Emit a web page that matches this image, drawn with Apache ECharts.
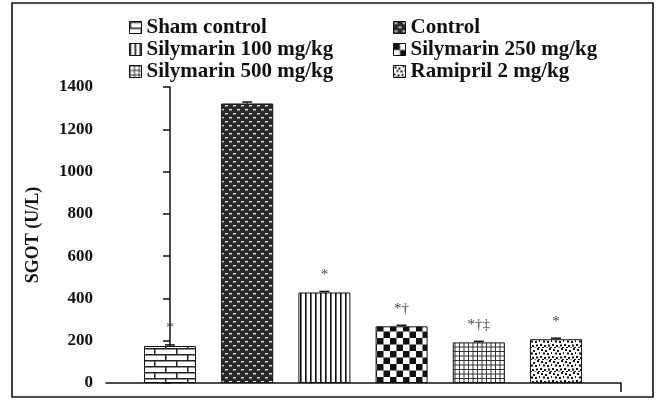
<!DOCTYPE html>
<html>
<head>
<meta charset="utf-8">
<script src="https://cdn.jsdelivr.net/npm/echarts@6/dist/echarts.min.js"></script>
<style>html,body{margin:0;padding:0;background:#fff;}#c{width:657px;height:400px;}</style>
</head>
<body>
<div id="c"></div>
<script>
// ---- data ----
const groups = ['Sham control', 'Control', 'Silymarin 100 mg/kg', 'Silymarin 250 mg/kg', 'Silymarin 500 mg/kg', 'Ramipril 2 mg/kg'];
const sgot = [175, 1322, 428, 268, 192, 207];
const sem = [5, 7, 5, 5, 5, 5];
const marks = ['*', '', '*', '*\u2020', '*\u2020\u2021', '*'];
const yTicks = [0, 200, 400, 600, 800, 1000, 1200, 1400];

// ---- pattern tiles ----
function tile(w, h, draw) {
  const c = document.createElement('canvas');
  c.width = w; c.height = h;
  const g = c.getContext('2d');
  g.fillStyle = '#fff'; g.fillRect(0, 0, w, h);
  draw(g, w, h);
  return { image: c, repeat: 'repeat' };
}
const patterns = [
  tile(22, 12, (g) => { // bricks
    g.fillStyle = '#222';
    g.fillRect(0, 0, 22, 1.5); g.fillRect(0, 6, 22, 1.5);
    g.fillRect(0, 0, 1.5, 6); g.fillRect(11, 6, 1.5, 6);
  }),
  tile(8, 8, (g) => { // dark with white dashes
    g.fillStyle = '#2a2a2a'; g.fillRect(0, 0, 8, 8);
    g.fillStyle = '#e8e8e8';
    g.fillRect(1, 1, 3, 1.4); g.fillRect(5, 5, 3, 1.4);
  }),
  tile(5, 4, (g) => { // vertical lines
    g.fillStyle = '#111'; g.fillRect(0, 0, 1.6, 4);
  }),
  tile(13, 13, (g) => { // checkerboard
    g.fillStyle = '#111';
    g.fillRect(0, 0, 6.5, 6.5); g.fillRect(6.5, 6.5, 6.5, 6.5);
  }),
  tile(9, 9, (g) => { // grid
    g.fillStyle = '#333';
    g.fillRect(0, 0, 9, 1); g.fillRect(0, 4.5, 9, 1);
    g.fillRect(0, 0, 1, 9); g.fillRect(4.5, 0, 1, 9);
  }),
  tile(12, 12, (g) => { // random dots
    g.fillStyle = '#111';
    const pts = [[1,1],[5,2],[9,0],[3,4.5],[7,5],[11,4],[0,8],[4,9],[8,8.5],[2,11],[6,11.5],[10,11]];
    pts.forEach(p => g.fillRect(p[0], p[1], 2, 2));
  })
];

const FONT = 'Liberation Serif';
const xMin = -0.829, xMax = 5.842;

const barSeries = groups.map((name, i) => ({
  name: name,
  type: 'bar',
  barWidth: 52,
  barGap: '-100%',
  data: [[i, sgot[i]]],
  itemStyle: { color: patterns[i], borderColor: '#111', borderWidth: 1 },
  label: {
    show: marks[i] !== '',
    position: 'top',
    distance: 10,
    formatter: marks[i],
    color: '#444',
    fontSize: 15,
    fontFamily: FONT
  },
  emphasis: { disabled: true },
  animation: false
}));

const errSeries = {
  type: 'custom',
  data: sgot.map((v, i) => [i, v, sem[i]]),
  renderItem: function (params, api) {
    const x = api.value(0), y = api.value(1), e = api.value(2);
    const top = api.coord([x, y + e]);
    const bot = api.coord([x, y]);
    const st = { stroke: '#111', lineWidth: 1.5 };
    return {
      type: 'group',
      children: [
        { type: 'line', shape: { x1: top[0], y1: top[1], x2: bot[0], y2: bot[1] }, style: st },
        { type: 'line', shape: { x1: top[0] - 5, y1: top[1], x2: top[0] + 5, y2: top[1] }, style: st }
      ]
    };
  },
  z: 5,
  silent: true,
  animation: false
};

const legendText = { fontFamily: FONT, fontWeight: 'bold', fontSize: 21, color: '#111', lineHeight: 21 };
const legendBase = {
  orient: 'vertical',
  top: 12,
  itemWidth: 12,
  itemHeight: 12,
  itemGap: 1,
  icon: 'rect',
  selectedMode: false,
  textStyle: legendText,
  itemStyle: { borderColor: '#111', borderWidth: 1 }
};

const chart = echarts.init(document.getElementById('c'), null, { renderer: 'canvas' });
chart.setOption({
  animation: false,
  backgroundColor: '#fff',
  grid: { left: 106, right: 36, top: 87, bottom: 17 },
  legend: [
    Object.assign({}, legendBase, { left: 124, data: [groups[0], groups[2], groups[4]] }),
    Object.assign({}, legendBase, { left: 388, data: [groups[1], groups[3], groups[5]] })
  ],
  xAxis: {
    type: 'value',
    min: xMin,
    max: xMax,
    splitLine: { show: false },
    axisLabel: { show: false },
    axisLine: { show: true, onZero: false, lineStyle: { color: '#111', width: 1.5 } },
    axisTick: { show: true, customValues: [xMax], length: 9, inside: false, lineStyle: { color: '#111', width: 1.5 } }
  },
  yAxis: {
    type: 'value',
    min: 0,
    max: 1400,
    interval: 200,
    name: 'SGOT (U/L)',
    nameLocation: 'middle',
    nameGap: 64,
    nameRotate: 90,
    nameTextStyle: { fontFamily: FONT, fontWeight: 'bold', fontSize: 18, color: '#111' },
    splitLine: { show: false },
    axisLine: { show: true, lineStyle: { color: '#111', width: 1.5 } },
    axisTick: { show: true, length: 7, inside: false, lineStyle: { color: '#111', width: 1.5 } },
    axisLabel: {
      margin: 13,
      fontFamily: FONT, fontWeight: 'bold', fontSize: 17, color: '#111',
      formatter: (v) => yTicks.indexOf(v) >= 0 ? String(v) : ''
    }
  },
  graphic: [{
    type: 'rect',
    shape: { x: 12, y: 3, width: 641, height: 394 },
    style: { fill: 'none', stroke: '#111', lineWidth: 1.6 },
    silent: true, z: 100
  }],
  series: barSeries.concat([errSeries])
});
</script>
</body>
</html>
